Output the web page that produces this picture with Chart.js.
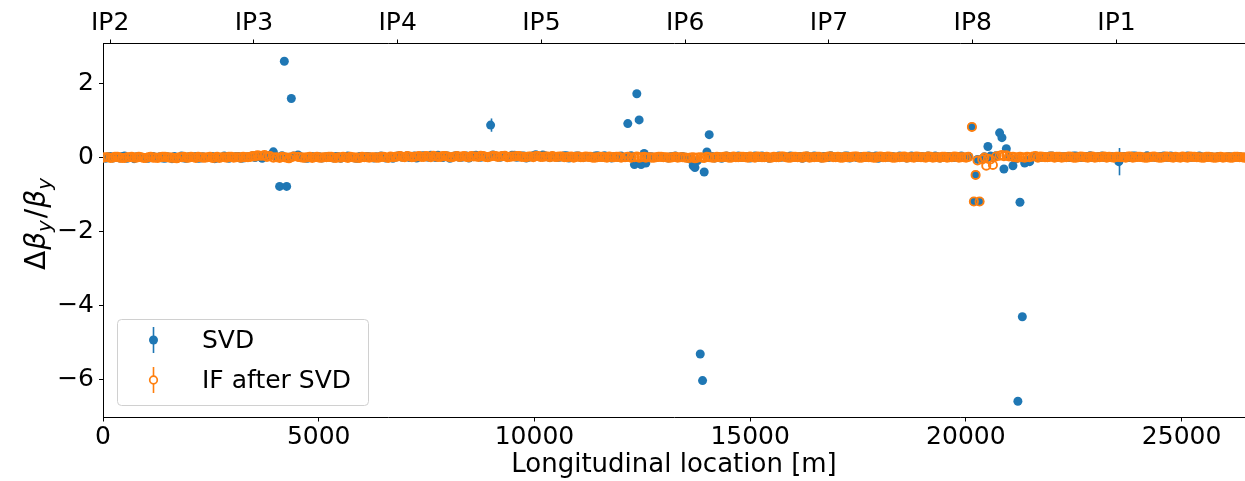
<!DOCTYPE html>
<html>
<head>
<meta charset="utf-8">
<script src="https://cdn.jsdelivr.net/npm/chart.js@4.4.0/dist/chart.umd.min.js"></script>
<style>
  body { margin: 0; background: #fff; }
  #wrap { width: 1245px; height: 481px; }
</style>
</head>
<body>
<div id="wrap"><canvas id="betaChart" width="1245" height="481"></canvas></div>
<script>
// BPM longitudinal positions [m]
const bpmS = [
  0, 60, 170, 280, 390, 500, 610, 720, 830, 940,
  1050, 1160, 1270, 1380, 1490, 1600, 1710, 1820, 1930, 2040,
  2150, 2260, 2370, 2480, 2590, 2700, 2810, 2920, 3030, 3140,
  3250, 3360, 3470, 3580, 3690, 3800, 3948, 4020, 4094, 4150,
  4203, 4257, 4310, 4365, 4420, 4520, 4630, 4740, 4850, 4960,
  5070, 5180, 5290, 5400, 5510, 5620, 5730, 5840, 5950, 6060,
  6170, 6280, 6390, 6500, 6610, 6720, 6830, 6940, 7050, 7160,
  7270, 7380, 7490, 7600, 7710, 7820, 7930, 8040, 8150, 8260,
  8370, 8480, 8590, 8700, 8810, 8920, 8984, 9040, 9150, 9260,
  9370, 9480, 9590, 9700, 9810, 9920, 10030, 10140, 10250, 10360,
  10470, 10580, 10690, 10800, 10910, 11020, 11130, 11240, 11350, 11460,
  11570, 11680, 11790, 11900, 12010, 12100, 12164, 12240, 12318, 12373,
  12427, 12473, 12543, 12582, 12660, 12770, 12880, 12990, 13100, 13210,
  13320, 13430, 13500, 13565, 13620, 13680, 13720, 13780, 13843, 13897,
  13935, 13998, 14051, 14120, 14230, 14340, 14450, 14560, 14670, 14780,
  14890, 15000, 15110, 15220, 15330, 15440, 15550, 15660, 15770, 15880,
  15990, 16100, 16210, 16320, 16430, 16540, 16650, 16760, 16870, 16980,
  17090, 17200, 17310, 17420, 17530, 17640, 17750, 17860, 17970, 18080,
  18190, 18300, 18410, 18520, 18630, 18740, 18850, 18960, 19070, 19180,
  19290, 19400, 19510, 19620, 19730, 19840, 19950, 20060, 20140, 20186,
  20226, 20270, 20318, 20380, 20430, 20473, 20511, 20570, 20627, 20700,
  20782, 20836, 20882, 20938, 21000, 21091, 21150, 21206, 21254, 21309,
  21363, 21420, 21479, 21560, 21670, 21780, 21890, 22000, 22110, 22220,
  22330, 22440, 22550, 22660, 22770, 22880, 22990, 23100, 23210, 23320,
  23430, 23545, 23650, 23760, 23870, 23980, 24090, 24200, 24310, 24420,
  24530, 24640, 24750, 24860, 24970, 25080, 25190, 25300, 25410, 25520,
  25630, 25740, 25850, 25960, 26070, 26180, 26290, 26400, 26500, 26600
];

// beta-beating after SVD correction
const svdBeta = [
  0.01, -0.02, 0.03, 0.00, -0.01, 0.04, 0.01, -0.03, 0.02, 0.00,
  -0.02, 0.03, 0.01, -0.01, 0.02, -0.03, 0.00, 0.04, -0.02, 0.01,
  0.03, -0.01, 0.00, 0.02, -0.03, 0.01, 0.04, -0.02, 0.00, 0.03,
  -0.01, 0.02, 0.05, 0.04, -0.02, 0.03, 0.155, 0.02, -0.78, 0.05,
  2.61, -0.78, 0.01, 1.60, 0.04, 0.07, 0.00, -0.02, 0.03, 0.01,
  -0.01, 0.02, 0.00, 0.03, -0.02, 0.01, 0.02, -0.01, 0.03, 0.00,
  0.02, -0.01, 0.01, 0.03, 0.00, -0.02, 0.04, 0.01, 0.05, 0.02,
  -0.01, 0.04, 0.02, 0.06, 0.00, 0.03, 0.05, -0.02, 0.04, 0.01,
  0.03, -0.01, 0.05, 0.02, 0.04, 0.00, 0.88, 0.07, 0.02, 0.05,
  0.03, 0.06, 0.01, 0.04, -0.01, 0.03, 0.08, 0.02, 0.04, 0.00,
  0.03, 0.01, 0.05, -0.01, 0.02, 0.04, 0.00, 0.03, 0.02, 0.05,
  0.01, 0.03, -0.01, 0.02, 0.04, 0.00, 0.92, 0.05, -0.19, 1.73,
  1.02, -0.19, 0.11, -0.15, 0.02, 0.00, 0.03, 0.01, -0.01, 0.02,
  0.00, 0.03, 0.01, -0.02, -0.05, -0.22, -0.27, -0.08, -5.32, -6.04,
  -0.39, 0.15, 0.62, 0.03, 0.01, -0.02, 0.04, 0.00, 0.03, 0.01,
  0.02, -0.01, 0.04, 0.01, 0.03, -0.02, 0.00, 0.04, 0.02, 0.01,
  0.03, 0.00, -0.02, 0.04, 0.01, 0.03, -0.01, 0.02, 0.05, 0.00,
  0.02, 0.04, -0.01, 0.03, 0.01, 0.00, 0.04, 0.02, -0.02, 0.03,
  0.01, 0.03, 0.00, 0.02, -0.01, 0.04, 0.01, 0.03, 0.00, 0.02,
  0.04, -0.01, 0.02, 0.03, 0.00, 0.02, 0.01, 0.03, 0.83, -1.19,
  -0.47, -0.05, -1.19, -0.03, 0.02, -0.02, 0.30, 0.04, 0.00, 0.05,
  0.67, 0.54, -0.31, 0.24, 0.03, -0.22, -0.04, -6.60, -1.21, -4.31,
  -0.15, -0.07, -0.11, 0.02, 0.00, 0.03, 0.01, 0.04, 0.00, 0.02,
  0.03, 0.01, 0.04, 0.00, 0.02, 0.05, 0.01, 0.03, 0.00, 0.02,
  0.01, -0.11, 0.03, 0.00, 0.04, 0.02, 0.01, 0.05, 0.02, 0.00,
  0.03, 0.01, 0.04, 0.02, 0.00, 0.03, 0.01, 0.02, 0.04, 0.00,
  0.02, 0.01, 0.03, 0.00, 0.02, 0.01, 0.03, 0.00, 0.01, 0.02
];

// beta-beating after IF on top of SVD
const ifBeta = [
  0.00, 0.01, -0.01, 0.02, 0.00, -0.01, 0.01, 0.00, 0.02, -0.01,
  0.01, 0.00, -0.01, 0.02, 0.01, 0.00, -0.02, 0.01, 0.00, 0.02,
  -0.01, 0.01, 0.00, 0.02, 0.00, -0.01, 0.01, 0.02, 0.00, 0.01,
  0.02, 0.01, 0.04, 0.06, 0.05, 0.02, 0.00, 0.01, -0.01, 0.02,
  0.01, 0.00, -0.02, 0.01, 0.03, 0.02, 0.00, 0.01, -0.01, 0.02,
  0.00, 0.01, 0.02, -0.01, 0.00, 0.01, 0.02, 0.00, -0.01, 0.01,
  0.00, 0.01, 0.00, 0.02, -0.01, 0.01, 0.03, 0.02, 0.04, 0.01,
  0.03, 0.02, 0.04, 0.01, 0.03, 0.02, 0.04, 0.01, 0.03, 0.02,
  0.04, 0.01, 0.03, 0.02, 0.04, 0.01, 0.03, 0.05, 0.02, 0.04,
  0.01, 0.03, 0.04, 0.02, 0.01, 0.03, 0.04, 0.02, 0.03, 0.01,
  0.02, 0.03, 0.01, 0.02, 0.00, 0.03, 0.01, 0.02, 0.00, 0.01,
  0.02, 0.00, 0.01, 0.02, 0.00, 0.01, 0.02, 0.00, 0.01, 0.03,
  0.00, 0.01, 0.02, 0.00, 0.01, 0.00, 0.02, 0.01, 0.00, 0.01,
  0.00, 0.01, 0.00, -0.01, 0.00, 0.01, -0.02, 0.00, 0.01, 0.00,
  -0.01, 0.02, 0.01, 0.00, 0.02, 0.01, 0.03, 0.00, 0.01, 0.02,
  0.01, 0.03, 0.00, 0.02, 0.01, 0.00, 0.02, 0.01, 0.03, 0.00,
  0.02, 0.01, 0.00, 0.03, 0.01, 0.02, 0.00, 0.01, 0.03, 0.01,
  0.00, 0.02, 0.01, 0.03, 0.00, 0.02, 0.01, 0.00, 0.02, 0.01,
  0.03, 0.00, 0.01, 0.02, 0.00, 0.01, 0.03, 0.01, 0.00, 0.02,
  0.01, 0.00, 0.02, 0.01, 0.03, 0.00, 0.01, 0.02, 0.83, -1.19,
  -0.47, -0.08, -1.19, -0.05, 0.00, -0.22, -0.03, -0.05, -0.20, 0.03,
  0.05, 0.07, 0.04, 0.06, 0.03, 0.02, 0.01, 0.00, 0.02, 0.01,
  0.00, 0.02, 0.01, 0.03, 0.00, 0.02, 0.01, 0.03, 0.02, 0.00,
  0.01, 0.02, 0.00, 0.03, 0.01, 0.02, 0.00, 0.01, 0.03, 0.02,
  0.00, 0.02, 0.01, 0.03, 0.00, 0.02, 0.01, 0.00, 0.02, 0.01,
  0.00, 0.03, 0.01, 0.02, 0.00, 0.01, 0.03, 0.02, 0.01, 0.00,
  0.02, 0.00, 0.01, 0.00, 0.01, 0.00, 0.02, 0.01, 0.00, 0.01
];

// second BPM of each half-cell in the arcs (quiet locations)
const bpmSMid = [
  115, 225, 335, 445, 555, 665, 775, 885, 995, 1105,
  1215, 1325, 1435, 1545, 1655, 1765, 1875, 1985, 2095, 2205,
  2315, 2425, 2535, 2645, 2755, 2865, 2975, 3085, 3195, 3305,
  3415, 3525, 3635, 3745, 3870, 4575, 4685, 4795, 4905, 5015,
  5125, 5235, 5345, 5455, 5565, 5675, 5785, 5895, 6005, 6115,
  6225, 6335, 6445, 6555, 6665, 6775, 6885, 6995, 7105, 7215,
  7325, 7435, 7545, 7655, 7765, 7875, 7985, 8095, 8205, 8315,
  8425, 8535, 8645, 8755, 8865, 9095, 9205, 9315, 9425, 9535,
  9645, 9755, 9865, 9975, 10085, 10195, 10305, 10415, 10525, 10635,
  10745, 10855, 10965, 11075, 11185, 11295, 11405, 11515, 11625, 11735,
  11845, 11955, 12715, 12825, 12935, 13045, 13155, 13265, 13375, 14175,
  14285, 14395, 14505, 14615, 14725, 14835, 14945, 15055, 15165, 15275,
  15385, 15495, 15605, 15715, 15825, 15935, 16045, 16155, 16265, 16375,
  16485, 16595, 16705, 16815, 16925, 17035, 17145, 17255, 17365, 17475,
  17585, 17695, 17805, 17915, 18025, 18135, 18245, 18355, 18465, 18575,
  18685, 18795, 18905, 19015, 19125, 19235, 19345, 19455, 19565, 19675,
  19785, 19895, 20005, 21615, 21725, 21835, 21945, 22055, 22165, 22275,
  22385, 22495, 22605, 22715, 22825, 22935, 23045, 23155, 23265, 23375,
  23490, 23600, 23705, 23815, 23925, 24035, 24145, 24255, 24365, 24475,
  24585, 24695, 24805, 24915, 25025, 25135, 25245, 25355, 25465, 25575,
  25685, 25795, 25905, 26015, 26125, 26235, 26345, 26450, 26550, 26650
];

const svdBetaMid = [
  0.02, -0.01, 0.01, 0.03, -0.02, 0.00, 0.02, 0.01, -0.01, 0.03,
  0.00, 0.02, -0.02, 0.01, 0.03, 0.00, -0.01, 0.02, 0.01, -0.02,
  0.02, 0.00, 0.03, -0.01, 0.01, 0.02, 0.00, 0.03, -0.02, 0.01,
  0.03, 0.00, 0.02, 0.04, 0.06, 0.02, -0.01, 0.03, 0.00, 0.02,
  0.01, 0.03, -0.01, 0.02, 0.00, 0.04, 0.01, -0.02, 0.02, 0.03,
  0.00, 0.02, 0.04, -0.01, 0.03, 0.01, 0.05, 0.02, 0.00, 0.04,
  0.02, 0.05, 0.01, 0.03, 0.06, 0.00, 0.04, 0.02, 0.05, 0.01,
  0.04, 0.02, 0.06, 0.01, 0.03, 0.04, 0.01, 0.05, 0.03, 0.06,
  0.02, 0.04, 0.01, 0.05, 0.03, 0.07, 0.02, 0.04, 0.01, 0.03,
  0.05, 0.02, 0.04, 0.00, 0.03, 0.01, 0.04, 0.02, 0.05, 0.01,
  0.03, 0.00, 0.02, 0.01, 0.03, 0.00, 0.02, 0.04, 0.01, -0.01,
  0.02, 0.00, 0.03, 0.01, 0.04, 0.00, 0.02, 0.03, 0.01, 0.04,
  0.02, 0.00, 0.03, 0.01, 0.02, 0.04, 0.00, 0.03, 0.01, 0.02,
  0.04, 0.01, 0.03, 0.00, 0.02, 0.03, 0.01, 0.04, 0.02, 0.00,
  0.03, 0.01, 0.02, 0.04, 0.00, 0.02, 0.03, 0.01, 0.04, 0.02,
  0.00, 0.03, 0.01, 0.02, 0.04, 0.00, 0.02, 0.01, 0.03, 0.00,
  0.02, 0.04, 0.01, 0.03, 0.00, 0.02, 0.04, 0.01, 0.03, 0.02,
  0.00, 0.04, 0.02, 0.01, 0.03, 0.00, 0.02, 0.04, 0.01, 0.03,
  0.02, 0.00, 0.03, 0.01, 0.04, 0.02, 0.00, 0.03, 0.01, 0.02,
  0.04, 0.01, 0.03, 0.00, 0.02, 0.04, 0.01, 0.03, 0.02, 0.00,
  0.02, 0.01, 0.03, 0.00, 0.02, 0.01, 0.03, 0.01, 0.02, 0.00
];

const ifBetaMid = [
  0.01, 0.00, 0.02, -0.01, 0.01, 0.02, 0.00, 0.01, -0.01, 0.02,
  0.00, 0.01, 0.02, 0.00, -0.01, 0.01, 0.02, 0.00, 0.01, 0.02,
  0.00, 0.01, -0.01, 0.02, 0.01, 0.00, 0.02, 0.01, 0.00, 0.01,
  0.02, 0.03, 0.05, 0.07, 0.04, 0.01, 0.00, 0.02, 0.01, 0.00,
  0.01, 0.02, 0.00, 0.01, 0.02, -0.01, 0.01, 0.00, 0.02, 0.01,
  0.01, 0.00, 0.02, 0.01, 0.03, 0.02, 0.04, 0.01, 0.03, 0.02,
  0.04, 0.02, 0.03, 0.05, 0.02, 0.04, 0.03, 0.01, 0.04, 0.03,
  0.02, 0.04, 0.03, 0.05, 0.02, 0.04, 0.03, 0.05, 0.02, 0.03,
  0.04, 0.02, 0.03, 0.01, 0.04, 0.02, 0.03, 0.04, 0.02, 0.03,
  0.01, 0.03, 0.02, 0.01, 0.03, 0.02, 0.00, 0.02, 0.01, 0.03,
  0.01, 0.02, 0.00, 0.01, 0.02, 0.01, 0.00, 0.02, 0.01, 0.00,
  0.01, 0.02, 0.00, 0.03, 0.01, 0.02, 0.00, 0.01, 0.03, 0.01,
  0.02, 0.00, 0.01, 0.03, 0.01, 0.00, 0.02, 0.01, 0.03, 0.00,
  0.01, 0.02, 0.00, 0.03, 0.01, 0.02, 0.00, 0.01, 0.02, 0.03,
  0.00, 0.02, 0.01, 0.00, 0.03, 0.01, 0.02, 0.00, 0.01, 0.03,
  0.01, 0.00, 0.02, 0.01, 0.03, 0.00, 0.01, 0.02, 0.00, 0.01,
  0.02, 0.01, 0.00, 0.04, 0.03, 0.01, 0.02, 0.00, 0.02, 0.01,
  0.03, 0.00, 0.01, 0.02, 0.00, 0.03, 0.01, 0.02, 0.00, 0.01,
  0.02, 0.01, 0.00, 0.03, 0.01, 0.02, 0.00, 0.01, 0.03, 0.00,
  0.01, 0.02, 0.00, 0.01, 0.03, 0.00, 0.02, 0.01, 0.00, 0.02,
  0.01, 0.00, 0.02, 0.01, 0.00, 0.02, 0.01, 0.00, 0.01, 0.00
];

// only these SVD error bars are larger than the marker
const svdErrS = [8984, 23545];
const svdErr = [0.18, 0.37];

// interaction points on the top axis
const ipNames = ['IP2', 'IP3', 'IP4', 'IP5', 'IP6', 'IP7', 'IP8', 'IP1'];
const ipS = [165, 3497, 6830, 10162, 13494, 16827, 20159, 23491];

const xTicks = [0, 5000, 10000, 15000, 20000, 25000];
const yTicks = [-6, -4, -2, 0, 2];

const blue = '#1f77b4';
const orange = '#ff7f0e';
const font = 'DejaVu Sans';

const svdPoints = bpmS.map((s, i) => ({ x: s, y: svdBeta[i] }))
    .concat(bpmSMid.map((s, i) => ({ x: s, y: svdBetaMid[i] })));
const ifPoints = bpmS.map((s, i) => ({ x: s, y: ifBeta[i] }))
    .concat(bpmSMid.map((s, i) => ({ x: s, y: ifBetaMid[i] })));

const errorBars = {
    id: 'errorBars',
    beforeDatasetsDraw(chart) {
        const { ctx, scales: { x, y } } = chart;
        ctx.save();
        ctx.strokeStyle = blue;
        ctx.lineWidth = 1.6;
        svdErrS.forEach((s, i) => {
            const v = svdBeta[bpmS.indexOf(s)];
            const px = Math.round(x.getPixelForValue(s)) + 0.5;
            ctx.beginPath();
            ctx.moveTo(px, y.getPixelForValue(v - svdErr[i]));
            ctx.lineTo(px, y.getPixelForValue(v + svdErr[i]));
            ctx.stroke();
        });
        ctx.restore();
    }
};

// rotated math label: Δβ_y/β_y
const yLabel = {
    id: 'yLabel',
    afterDraw(chart) {
        const ctx = chart.ctx;
        const parts = [
            { t: 'Δ', f: '28px ' + font, dy: 0, gap: 1 },
            { t: 'β', f: 'italic 28px ' + font, dy: 0, gap: 0 },
            { t: 'y', f: 'italic 20px ' + font, dy: 6, gap: 2 },
            { t: '/', f: '28px ' + font, dy: 0, gap: 1 },
            { t: 'β', f: 'italic 28px ' + font, dy: 0, gap: 0 },
            { t: 'y', f: 'italic 20px ' + font, dy: 6, gap: 0 }
        ];
        ctx.save();
        let total = 0;
        parts.forEach(p => { ctx.font = p.f; p.w = ctx.measureText(p.t).width; total += p.w + p.gap; });
        ctx.translate(45, 224);
        ctx.rotate(-Math.PI / 2);
        ctx.fillStyle = '#000';
        ctx.textBaseline = 'alphabetic';
        let u = -total / 2;
        parts.forEach(p => {
            ctx.font = p.f;
            ctx.fillText(p.t, u, p.dy);
            u += p.w + p.gap;
        });
        ctx.restore();
    }
};

const legendBox = {
    id: 'legendBox',
    afterDraw(chart) {
        const ctx = chart.ctx;
        ctx.save();
        ctx.beginPath();
        ctx.roundRect(117.5, 319.5, 251, 86, 4);
        ctx.fillStyle = 'rgba(255,255,255,0.8)';
        ctx.fill();
        ctx.strokeStyle = '#d0d0d0';
        ctx.lineWidth = 1;
        ctx.stroke();

        const rows = [
            { y: 340, color: blue, filled: true, text: 'SVD' },
            { y: 380, color: orange, filled: false, text: 'IF after SVD' }
        ];
        rows.forEach(r => {
            ctx.strokeStyle = r.color;
            ctx.lineWidth = 1.6;
            ctx.beginPath();
            ctx.moveTo(153.5, r.y - 13);
            ctx.lineTo(153.5, r.y + 13);
            ctx.stroke();
            ctx.beginPath();
            ctx.arc(153.5, r.y, r.filled ? 4.5 : 3.8, 0, Math.PI * 2);
            if (r.filled) {
                ctx.fillStyle = r.color;
                ctx.fill();
            } else {
                ctx.fillStyle = '#fff';
                ctx.fill();
                ctx.lineWidth = 1.7;
                ctx.stroke();
            }
            ctx.fillStyle = '#000';
            ctx.font = '25px ' + font;
            ctx.textBaseline = 'middle';
            ctx.fillText(r.text, 202, r.y + 1);
        });
        ctx.restore();
    }
};

const axisGrid = {
    drawOnChartArea: false,
    drawTicks: true,
    tickLength: 4,
    color: '#000',
    lineWidth: 1
};
const axisBorder = { display: true, color: '#000', width: 1 };

new Chart(document.getElementById('betaChart'), {
    type: 'scatter',
    data: {
        datasets: [
            {
                label: 'IF after SVD',
                data: ifPoints,
                pointRadius: 4.1,
                pointBorderWidth: 1.9,
                pointBorderColor: orange,
                pointBackgroundColor: 'rgba(255,255,255,0)',
                order: 1
            },
            {
                label: 'SVD',
                data: svdPoints,
                pointRadius: 4.5,
                pointBorderWidth: 0,
                pointBackgroundColor: blue,
                order: 2
            }
        ]
    },
    options: {
        responsive: false,
        animation: false,
        devicePixelRatio: 1,
        layout: { padding: 0, autoPadding: false },
        plugins: {
            legend: { display: false },
            tooltip: { enabled: false }
        },
        scales: {
            x: {
                type: 'linear',
                position: 'bottom',
                min: 0,
                max: 26470,
                afterBuildTicks: scale => { scale.ticks = xTicks.map(v => ({ value: v })); },
                afterFit: scale => { scale.height = 63.5; },
                grid: axisGrid,
                border: axisBorder,
                ticks: {
                    color: '#000',
                    padding: 1,
                    maxRotation: 0,
                    font: { family: font, size: 25 },
                    callback: v => String(v)
                },
                title: {
                    display: true,
                    text: 'Longitudinal location [m]',
                    color: '#000',
                    font: { family: font, size: 26 },
                    padding: { top: 0, bottom: 0 }
                }
            },
            x2: {
                type: 'linear',
                position: 'top',
                min: 0,
                max: 26470,
                afterBuildTicks: scale => { scale.ticks = ipS.map(v => ({ value: v })); },
                afterFit: scale => { scale.height = 43.5; },
                grid: axisGrid,
                border: axisBorder,
                ticks: {
                    color: '#000',
                    padding: 1,
                    maxRotation: 0,
                    autoSkip: false,
                    font: { family: font, size: 25 },
                    callback: (v, i) => ipNames[i]
                }
            },
            y: {
                type: 'linear',
                min: -7.04,
                max: 3.09,
                afterBuildTicks: scale => { scale.ticks = yTicks.map(v => ({ value: v })); },
                afterFit: scale => { scale.width = 103; },
                grid: axisGrid,
                border: axisBorder,
                ticks: {
                    color: '#000',
                    padding: 5,
                    font: { family: font, size: 25 },
                    callback: v => (v < 0 ? '\u2212' + Math.abs(v) : String(v))
                }
            }
        }
    },
    plugins: [errorBars, yLabel, legendBox]
});
</script>
</body>
</html>
